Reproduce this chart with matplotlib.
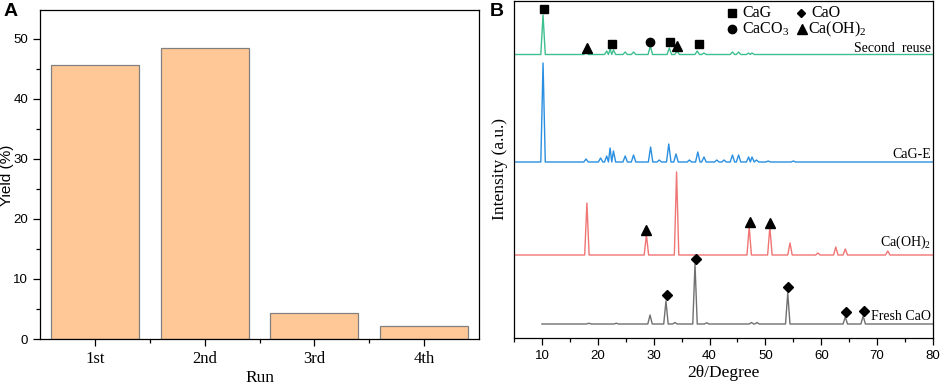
import matplotlib
matplotlib.use("Agg")
import matplotlib.pyplot as plt
from matplotlib.ticker import MultipleLocator, FixedLocator

# ---------------- Data ----------------
runs = ["1st", "2nd", "3rd", "4th"]
yield_pct = [45.7, 48.5, 4.4, 2.1]

# XRD traces: baseline offsets, peak centres (2theta) and peak tops (offset units)
fresh_base = 14
fresh_start = 10
fresh_pk_x = [18.4, 23.3, 29.35, 32.2, 33.8, 37.4, 39.5, 47.5, 48.5, 54.0, 64.3, 67.5]
fresh_pk_y = [14.8, 14.8, 23, 37, 15.5, 74, 15.2, 15.5, 15.5, 45, 21, 22]

caoh_base = 83
caoh_start = 5
caoh_pk_x = [18.05, 28.7, 34.1, 47.1, 50.8, 54.4, 59.4, 62.6, 64.3, 71.9]
caoh_pk_y = [135, 103, 166, 111, 111, 95, 85, 91, 89, 87]

cage_base = 176
cage_start = 5
cage_pk_x = [10.2, 17.9, 20.5, 21.6, 22.2, 22.8, 24.9, 26.4, 29.45, 31.0, 32.7, 34.0,
             36.4, 37.9, 39.0, 41.3, 42.6, 44.1, 45.2, 47.0, 47.6, 48.4, 50.5, 55.0]
cage_pk_y = [275, 179, 180, 182, 190, 187, 182, 183, 191, 178, 194, 184,
             178, 186, 181, 178, 178, 183, 183, 181, 181, 178, 177, 177]

reuse_base = 283.5
reuse_start = 5
reuse_pk_x = [10.2, 17.9, 21.6, 22.2, 22.8, 24.9, 26.4, 29.4, 32.8, 34.2, 37.8, 39.0,
              44.1, 45.2, 47.0, 47.6]
reuse_pk_y = [323, 286, 287, 289, 288, 286, 286, 292, 290, 287, 287, 285,
              286, 286, 285, 285]

# phase markers
cag_mk_x = [10.3, 22.6, 32.9, 38.1]
cag_mk_y = [329, 294, 296, 294]
caco3_mk_x = [29.4]
caco3_mk_y = [296]
caoh_mk_x = [18.0, 34.2, 28.7, 47.2, 50.9]
caoh_mk_y = [290, 292, 108, 116, 115]
cao_mk_x = [32.3, 37.5, 54.1, 64.4, 67.6]
cao_mk_y = [43, 79, 51, 26, 27]

trace_names = ["Second  reuse", "CaG-E", "Ca(OH)$_2$", "Fresh CaO"]

# ---------------- Style ----------------
SERIF = "Liberation Serif"
SANS = "Liberation Sans"
plt.rcParams["font.family"] = SANS
plt.rcParams["mathtext.fontset"] = "custom"
plt.rcParams["mathtext.rm"] = SERIF
plt.rcParams["mathtext.it"] = SERIF + ":italic"

fig = plt.figure(figsize=(9.41, 3.84), dpi=100)
W, H = 941, 384

# ---------------- Panel A ----------------
axA = fig.add_axes([40 / W, 1 - 339 / H, (479 - 40) / W, (339 - 10) / H])
xpos = list(range(len(runs)))
axA.bar(xpos, yield_pct, width=0.8, color="#FFC896", edgecolor="#808080", linewidth=0.9)
axA.set_xlim(-0.5, 3.5)
axA.set_ylim(0, 54.8)
axA.yaxis.set_major_locator(MultipleLocator(10))
axA.yaxis.set_minor_locator(MultipleLocator(5))
axA.set_xticks(xpos)
axA.set_xticklabels(runs, fontfamily=SERIF, fontsize=12)
axA.xaxis.set_minor_locator(FixedLocator([0.5, 1.5, 2.5]))
axA.tick_params(axis="both", which="major", direction="out", length=5, width=0.9)
axA.tick_params(axis="both", which="minor", direction="out", length=3, width=0.9)
axA.tick_params(axis="y", labelsize=9.5)
axA.set_xlabel("Run", fontfamily=SERIF, fontsize=12.5, labelpad=2)
for s in axA.spines.values():
    s.set_linewidth(0.9)
fig.text(7 / W, 1 - 175 / H, "Yield (%)", fontfamily=SANS, fontsize=11,
         rotation=90, ha="center", va="center")
fig.text(11 / W, 1 - 11 / H, "A", fontsize=14, fontweight="bold", fontfamily=SANS,
         ha="center", va="center")

# ---------------- Panel B ----------------
axB = fig.add_axes([514 / W, 1 - 338 / H, (933 - 514) / W, (338 - 1) / H])
axB.set_xlim(5, 80)
axB.set_ylim(0, 337)


def trace(start, base, pk_x, pk_y, w=0.4):
    pk = sorted(zip(pk_x, pk_y))
    xs, ys = [start], [base]
    for i, (cx, cy) in enumerate(pk):
        left = cx - w
        if i > 0:
            left = max(left, (pk[i - 1][0] + cx) / 2)
        right = cx + w
        if i < len(pk) - 1:
            right = min(right, (pk[i + 1][0] + cx) / 2)
        xs += [left, cx, right]
        ys += [base, cy, base]
    xs.append(80)
    ys.append(base)
    return xs, ys


traces = [
    (reuse_start, reuse_base, reuse_pk_x, reuse_pk_y, "#3DBF8F"),
    (cage_start, cage_base, cage_pk_x, cage_pk_y, "#2A8FE0"),
    (caoh_start, caoh_base, caoh_pk_x, caoh_pk_y, "#F07575"),
    (fresh_start, fresh_base, fresh_pk_x, fresh_pk_y, "#707070"),
]
for st, b, px, py, c in traces:
    xs, ys = trace(st, b, px, py)
    axB.plot(xs, ys, color=c, linewidth=1.0)

axB.plot(cag_mk_x, cag_mk_y, "s", color="black", markersize=6, linestyle="none")
axB.plot(caco3_mk_x, caco3_mk_y, "o", color="black", markersize=6, linestyle="none")
axB.plot(caoh_mk_x, caoh_mk_y, "^", color="black", markersize=7, linestyle="none")
axB.plot(cao_mk_x, cao_mk_y, "D", color="black", markersize=5, linestyle="none")

# trace labels
label_y = [290, 184, 96, 21]
for name, ly in zip(trace_names, label_y):
    axB.text(79.7, ly, name, fontfamily=SERIF, fontsize=10, ha="right", va="center")

# legend (manual, matches original layout)
leg_fs = 11.5
axB.plot([44.0], [325], "s", color="black", markersize=6)
axB.text(45.8, 325, "CaG", fontfamily=SERIF, fontsize=leg_fs, va="center")
axB.plot([56.4], [325], "D", color="black", markersize=4.5)
axB.text(58.2, 325, "CaO", fontfamily=SERIF, fontsize=leg_fs, va="center")
axB.plot([44.0], [309], "o", color="black", markersize=6)
axB.text(45.8, 309, "CaCO$_3$", fontfamily=SERIF, fontsize=leg_fs, va="center")
axB.plot([56.6], [309], "^", color="black", markersize=7)
axB.text(57.6, 309, "Ca(OH)$_2$", fontfamily=SERIF, fontsize=leg_fs, va="center")

axB.xaxis.set_major_locator(MultipleLocator(10))
axB.xaxis.set_minor_locator(MultipleLocator(5))
axB.set_yticks([])
axB.tick_params(axis="x", which="major", direction="out", length=5, width=0.9, labelsize=9.5)
axB.tick_params(axis="x", which="minor", direction="out", length=3, width=0.9)
axB.set_xlabel("2θ/Degree", fontfamily=SERIF, fontsize=12.5, labelpad=2)
axB.set_ylabel("Intensity (a.u.)", fontfamily=SERIF, fontsize=12.5, labelpad=4)
for s in axB.spines.values():
    s.set_linewidth(0.9)
fig.text(497 / W, 1 - 11 / H, "B", fontsize=14, fontweight="bold", fontfamily=SANS,
         ha="center", va="center")

fig.savefig("out.png", dpi=100)
